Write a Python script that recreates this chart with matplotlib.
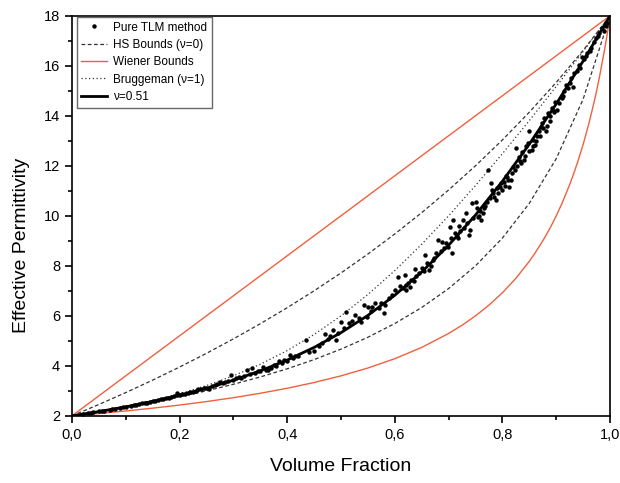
import numpy as np
import matplotlib
matplotlib.use("Agg")
import matplotlib.pyplot as plt
from matplotlib.ticker import MultipleLocator, FuncFormatter

plt.rcParams['font.family'] = ['Liberation Sans', 'DejaVu Sans']

# curve abscissae (volume fraction)
frac = [0.0, 0.05, 0.10, 0.15, 0.20, 0.25, 0.30, 0.35, 0.40, 0.45, 0.50,
        0.55, 0.60, 0.65, 0.70, 0.75, 0.80, 0.85, 0.90, 0.95, 1.0]

# HS bounds (nu=0)
hs_low = [2.000, 2.167, 2.348, 2.545, 2.762, 3.000, 3.263, 3.556, 3.882, 4.250, 4.667,
          5.143, 5.692, 6.333, 7.091, 8.000, 9.111, 10.500, 12.286, 14.667, 18.0]
hs_up = [2.000, 2.455, 2.930, 3.429, 3.951, 4.500, 5.077, 5.684, 6.324, 7.000, 7.714,
         8.471, 9.273, 10.125, 11.032, 12.000, 13.034, 14.143, 15.333, 16.615, 18.0]

# Bruggeman (nu=1)
brugg = [2.000, 2.172, 2.373, 2.607, 2.884, 3.211, 3.600, 4.062, 4.610, 5.253, 6.000,
         6.853, 7.810, 8.862, 10.000, 11.211, 12.484, 13.807, 15.172, 16.572, 18.0]

# nu = 0.51
nu051 = [2.000, 2.170, 2.360, 2.576, 2.821, 3.102, 3.425, 3.798, 4.231, 4.736, 5.327,
         6.018, 6.823, 7.754, 8.822, 10.031, 11.383, 12.867, 14.474, 16.190, 18.0]

# Wiener bounds
wien_up_x = [0.0, 1.0]
wien_up = [2.0, 18.0]
wien_low_x = [0.0, 0.05, 0.10, 0.15, 0.20, 0.25, 0.30, 0.35, 0.40, 0.45, 0.50, 0.55,
              0.60, 0.65, 0.70, 0.725, 0.75, 0.775, 0.80, 0.825, 0.85, 0.86, 0.875, 0.88,
              0.89, 0.90, 0.91, 0.925, 0.93, 0.94, 0.95, 0.96, 0.97, 0.975, 0.98, 0.99,
              0.995, 1.0]
wien_low = [2.000, 2.093, 2.195, 2.308, 2.432, 2.571, 2.727, 2.903, 3.103, 3.333, 3.600, 3.913,
            4.286, 4.737, 5.294, 5.625, 6.000, 6.429, 6.923, 7.500, 8.182, 8.491, 9.000, 9.184,
            9.574, 10.000, 10.465, 11.250, 11.538, 12.162, 12.857, 13.636, 14.516, 15.000,
            15.517, 16.667, 17.308, 18.0]

# Pure TLM method points
tlm_x = [0.02, 0.03, 0.035, 0.04, 0.05, 0.055, 0.06, 0.07, 0.075, 0.08, 0.09, 0.095, 0.10,
         0.11, 0.115, 0.12, 0.125, 0.13, 0.135, 0.14, 0.145, 0.15, 0.155, 0.16, 0.165, 0.17,
         0.175, 0.18, 0.185, 0.19, 0.195, 0.20, 0.205, 0.21, 0.215, 0.22, 0.225, 0.23, 0.235,
         0.24, 0.245, 0.25, 0.255, 0.26, 0.265, 0.27, 0.275, 0.28, 0.285, 0.29, 0.295, 0.30,
         0.305, 0.31, 0.315, 0.32, 0.325, 0.33, 0.335, 0.34, 0.345, 0.35, 0.355, 0.36, 0.365,
         0.37, 0.375, 0.38, 0.385, 0.39, 0.395, 0.40, 0.405, 0.41, 0.415, 0.42, 0.435, 0.44,
         0.449, 0.46, 0.465, 0.471, 0.475, 0.48, 0.485, 0.49, 0.495, 0.50, 0.505, 0.51, 0.515,
         0.52, 0.526, 0.533, 0.537, 0.543, 0.548, 0.55, 0.555, 0.558, 0.564, 0.57, 0.575,
         0.58, 0.582, 0.59, 0.595, 0.60, 0.605, 0.61, 0.615, 0.619, 0.62, 0.62, 0.625, 0.628,
         0.63, 0.635, 0.637, 0.64, 0.645, 0.65, 0.655, 0.657, 0.66, 0.664, 0.668, 0.671,
         0.672, 0.676, 0.681, 0.685, 0.688, 0.692, 0.695, 0.699, 0.702, 0.704, 0.706, 0.709,
         0.712, 0.715, 0.718, 0.72, 0.722, 0.726, 0.728, 0.732, 0.735, 0.737, 0.74, 0.743,
         0.745, 0.75, 0.752, 0.754, 0.757, 0.758, 0.761, 0.764, 0.766, 0.768, 0.772, 0.774,
         0.776, 0.778, 0.781, 0.783, 0.785, 0.788, 0.79, 0.792, 0.795, 0.797, 0.80, 0.802,
         0.804, 0.806, 0.809, 0.811, 0.812, 0.816, 0.818, 0.819, 0.823, 0.826, 0.827, 0.83,
         0.832, 0.834, 0.837, 0.84, 0.842, 0.844, 0.847, 0.849, 0.85, 0.854, 0.856, 0.857,
         0.86, 0.862, 0.864, 0.868, 0.869, 0.871, 0.874, 0.876, 0.878, 0.881, 0.883, 0.885,
         0.888, 0.889, 0.892, 0.895, 0.896, 0.898, 0.902, 0.905, 0.91, 0.912, 0.915, 0.919,
         0.922, 0.925, 0.928, 0.932, 0.933, 0.938, 0.943, 0.945, 0.948, 0.952, 0.955, 0.958,
         0.962, 0.964, 0.97, 0.974, 0.978, 0.98, 0.985, 0.988, 0.992, 0.995]
tlm_y = [2.07, 2.10, 2.12, 2.14, 2.18, 2.19, 2.20, 2.25, 2.26, 2.27, 2.33, 2.35, 2.36,
         2.40, 2.43, 2.45, 2.46, 2.50, 2.52, 2.53, 2.57, 2.60, 2.61, 2.63, 2.66, 2.68,
         2.71, 2.72, 2.76, 2.80, 2.93, 2.83, 2.86, 2.88, 2.90, 2.95, 2.97, 3.00, 3.08,
         3.06, 3.10, 3.12, 3.07, 3.18, 3.22, 3.26, 3.37, 3.30, 3.35, 3.38, 3.62, 3.45,
         3.50, 3.55, 3.52, 3.60, 3.83, 3.68, 3.90, 3.73, 3.80, 3.78, 3.95, 3.85, 3.82,
         3.93, 4.02, 3.98, 4.20, 4.12, 4.25, 4.20, 4.45, 4.32, 4.40, 4.38, 5.04, 4.55,
         4.61, 4.80, 4.90, 5.27, 5.08, 5.20, 5.44, 5.04, 5.30, 5.77, 5.50, 6.17, 5.70,
         5.80, 6.04, 5.90, 5.75, 6.44, 5.95, 6.37, 6.20, 6.37, 6.50, 6.30, 6.50,
         6.13, 6.44, 6.70, 6.85, 7.05, 7.57, 7.20, 7.10, 7.64, 7.04, 7.25, 7.30, 7.15,
         7.45, 7.40, 7.87, 7.60, 7.70, 7.90, 7.80, 8.44, 8.10, 7.84, 8.00, 8.24,
         8.30, 8.50, 9.04, 8.60, 8.97, 8.70, 8.90, 8.77, 9.57, 9.10, 8.51, 9.84,
         9.31, 9.20, 9.10, 9.60, 9.40, 9.84, 9.50, 10.10, 9.70, 9.24, 9.44, 10.50,
         9.90, 10.57, 10.30, 9.97, 10.00, 10.20, 9.84, 10.10, 10.30, 10.40, 10.55, 11.84,
         10.70, 11.30, 11.04, 10.90, 10.75, 10.64, 11.10, 10.90, 11.17, 11.30, 11.05, 11.37,
         11.20, 11.60, 11.57, 11.45, 11.17, 11.45, 11.70, 11.97, 11.84, 12.71, 12.00, 12.37,
         12.20, 12.10, 12.57, 12.24, 12.40, 12.80, 12.91, 12.60, 13.37, 12.64, 12.80, 13.04,
         12.85, 13.00, 13.17, 13.37, 13.20, 13.55, 13.71, 13.50, 13.91, 13.37, 13.60, 14.10,
         13.80, 14.00, 14.31, 14.20, 14.15, 14.55, 14.24, 14.50, 14.70, 14.80, 15.00, 15.24,
         15.10, 15.30, 15.50, 15.15, 15.70, 15.80, 16.04, 15.90, 16.35, 16.25, 16.40, 16.50,
         16.60, 16.71, 16.95, 17.10, 17.20, 17.30, 17.50, 17.37, 17.60, 17.70]

red = '#f0603f'

fig = plt.figure(figsize=(6.2, 4.83), dpi=100)
ax = fig.add_axes([0.116, 0.139, 0.868, 0.8285])

ax.plot(tlm_x, tlm_y, 'o', color='black', markersize=3.2, markeredgewidth=0,
        label='Pure TLM method', zorder=4)
ax.plot(frac, hs_low, '--', color='#333333', lw=0.9, dashes=(3, 2), label='HS Bounds (\u03bd=0)')
ax.plot(frac, hs_up, '--', color='#333333', lw=0.9, dashes=(3, 2))
ax.plot(wien_up_x, wien_up, '-', color=red, lw=1.0, label='Wiener Bounds')
ax.plot(wien_low_x, wien_low, '-', color=red, lw=1.0)
ax.plot(frac, brugg, ':', color='#333333', lw=0.9, dashes=(1, 2), label='Bruggeman (\u03bd=1)')
ax.plot(frac, nu051, '-', color='black', lw=2.0, label='\u03bd=0.51', zorder=5)

ax.set_xlim(0, 1)
ax.set_ylim(2, 18)
ax.xaxis.set_major_locator(MultipleLocator(0.2))
ax.xaxis.set_minor_locator(MultipleLocator(0.1))
ax.yaxis.set_major_locator(MultipleLocator(2))
ax.yaxis.set_minor_locator(MultipleLocator(1))
ax.xaxis.set_major_formatter(FuncFormatter(lambda v, p: ('%.1f' % v).replace('.', ',')))
ax.yaxis.set_major_formatter(FuncFormatter(lambda v, p: '%d' % v))
ax.tick_params(which='both', direction='out', top=False, right=False, width=1.2)
ax.tick_params(which='major', length=5, labelsize=10.5)
ax.tick_params(which='minor', length=3)
for s in ax.spines.values():
    s.set_linewidth(1.2)

ax.set_xlabel('Volume Fraction', fontsize=14, labelpad=12)
ax.set_ylabel('Effective Permittivity', fontsize=14)
ax.yaxis.set_label_coords(-0.078, 0.427)

leg = ax.legend(loc='upper left', bbox_to_anchor=(0.009, 0.997), borderaxespad=0,
                fontsize=8.5, frameon=True, fancybox=False, edgecolor='#444444',
                handlelength=2.2, handletextpad=0.5, labelspacing=0.45, borderpad=0.4,
                markerscale=1.0)
leg.get_frame().set_linewidth(1.0)

fig.savefig('out.png', dpi=100)
